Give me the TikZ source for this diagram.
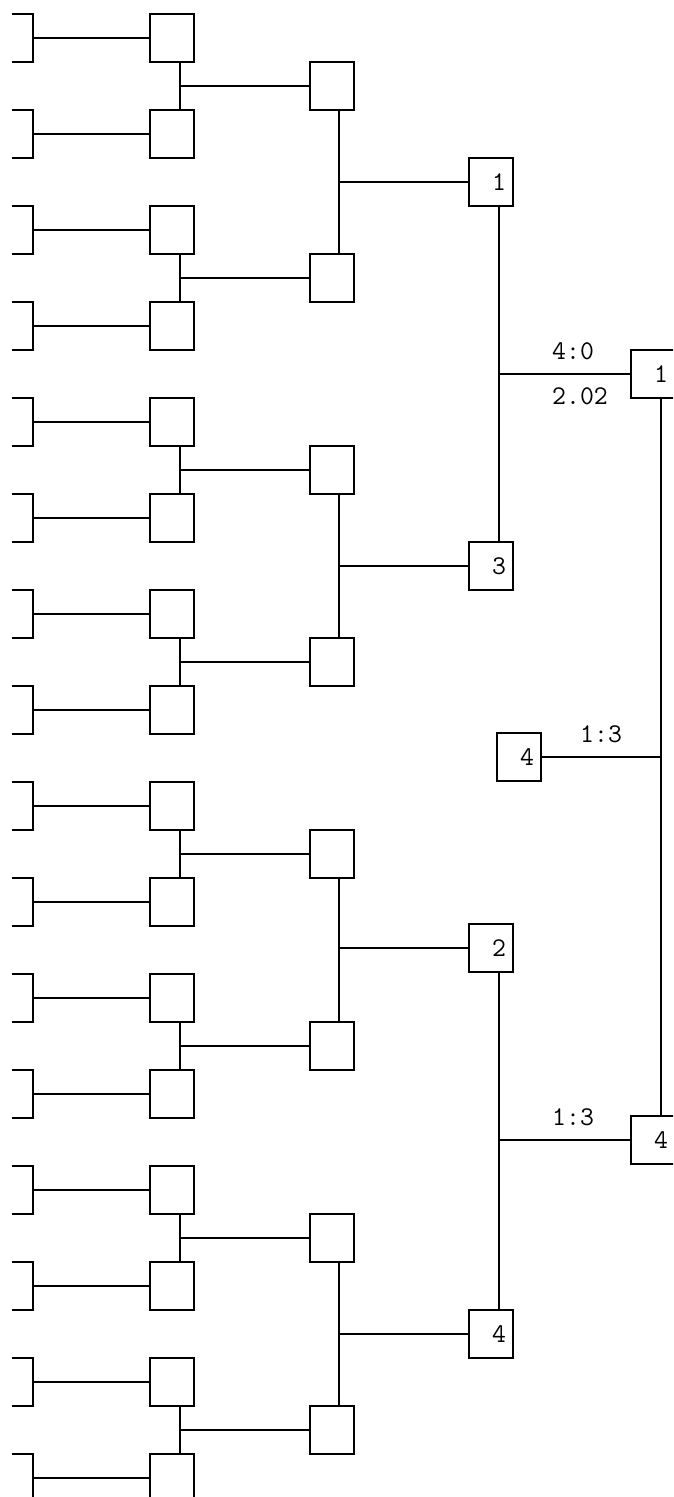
\documentclass[tikz,border=0pt]{standalone}
\usepackage{fontspec}
\newcommand\lblfont{\fontsize{27}{31}\selectfont\ttfamily}
\begin{document}
\begin{tikzpicture}[x=1pt,y=-1pt,
  box/.style={draw,line width=1.6pt,minimum width=44pt,minimum height=48pt,inner sep=0pt,
    text width=30pt,align=right,font=\lblfont},
  conn/.style={line width=1.4pt},
  longconn/.style={line width=1.1pt},
  lbl/.style={font=\lblfont,inner sep=0pt}]
\useasboundingbox (0,0) rectangle (673,1497);
\clip (0,0) rectangle (673,1497);
% column 0 (cut at the left)
\begin{scope}
\clip (12,-20) rectangle (700,1520);
\foreach \k in {0,...,15}{
  \node[box] (c0-\k) at (11,38+96*\k) {};
}
\end{scope}
% column 1
\foreach \k in {0,...,15}{
  \node[box] (c1-\k) at (172,38+96*\k) {};
  \draw[conn] (c0-\k.east) -- (c1-\k.west);
}
% column 2
\foreach \j in {0,...,7}{
  \pgfmathtruncatemacro\a{2*\j}
  \pgfmathtruncatemacro\b{2*\j+1}
  \node[box] (c2-\j) at (332,86+192*\j) {};
  \draw[conn] ([xshift=8pt]c1-\a.south) -- ([xshift=8pt]c1-\b.north);
  \draw[conn] ([xshift=8pt]c1-\a.south |- c2-\j.west) -- (c2-\j.west);
}
% column 3
\node[box] (c3-0) at (491,182) {1};
\node[box] (c3-1) at (491,566) {3};
\node[box] (c3-2) at (491,948) {2};
\node[box] (c3-3) at (491,1334) {4};
\foreach \i/\a/\b in {0/0/1,1/2/3,2/4/5,3/6/7}{
  \draw[longconn] ([xshift=7pt]c2-\a.south) -- ([xshift=7pt]c2-\b.north);
  \draw[conn] ([xshift=7pt]c2-\a.south |- c3-\i.west) -- (c3-\i.west);
}
% column 4
\node[box] (f1) at (653,374) {1};
\node[box] (f2) at (653,1140) {4};
\draw[longconn] ([xshift=8pt]c3-0.south) -- ([xshift=8pt]c3-1.north);
\draw[conn] ([xshift=8pt]c3-0.south |- f1.west) -- (f1.west);
\draw[longconn] ([xshift=8pt]c3-2.south) -- ([xshift=8pt]c3-3.north);
\draw[conn] ([xshift=8pt]c3-2.south |- f2.west) -- (f2.west);
\draw[longconn] ([xshift=8pt]f1.south) -- ([xshift=8pt]f2.north);
% third place
\node[box] (t) at (519,757) {4};
\draw[conn] (t.east) -- ([xshift=8pt]f1.south |- t.east);
% score labels
\node[lbl,anchor=base west] (s1) at (552,359) {4:0};
\node[lbl,anchor=base west] (s2) at (552,404) {2.02};
\node[lbl,anchor=base west] (s3) at (580,742) {1:3};
\node[lbl,anchor=base west] (s4) at (552,1125) {1:3};
\end{tikzpicture}
\end{document}
